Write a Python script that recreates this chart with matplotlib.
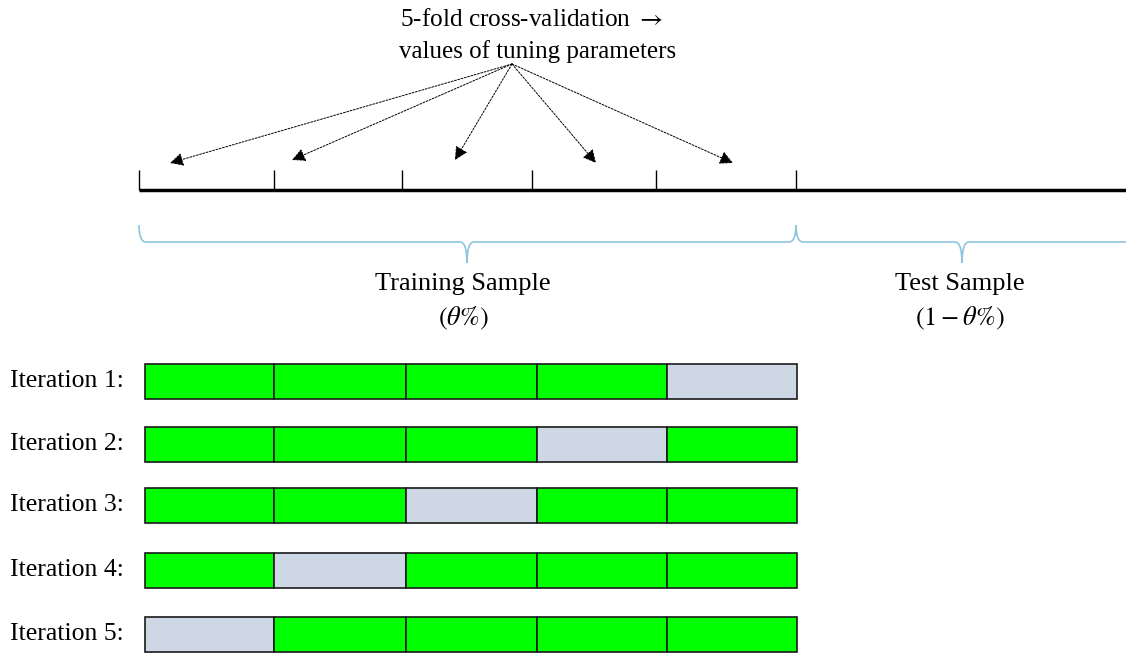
import numpy as np
import matplotlib.pyplot as plt
from matplotlib.path import Path
from matplotlib.patches import PathPatch

plt.rcParams['font.family'] = ['Liberation Serif', 'DejaVu Serif']
plt.rcParams['mathtext.fontset'] = 'stix'

# Layout data (pixel coordinates of the diagram)
timeline_ticks = [139, 274, 402, 532, 656, 796]
timeline_end = 1126
arrow_origin = (512, 64)
arrow_targets_x = [170, 292, 455, 596, 733]
arrow_targets_y = [163, 160, 160, 163, 163]

row_labels = ['Iteration 1:', 'Iteration 2:', 'Iteration 3:', 'Iteration 4:', 'Iteration 5:']
row_centers = [381, 444, 505, 570, 634]
fold_edges = [145, 274, 406, 537, 667, 797]
test_fold = [4, 3, 2, 1, 0]  # which fold is held out in each iteration

train_color = '#00ff00'
held_color = '#cdd8e4'
brace_color = '#8ec5de'

fig = plt.figure(figsize=(11.26, 6.58), dpi=100)
ax = fig.add_axes([0, 0, 1, 1])
ax.set_xlim(0, 1126)
ax.set_ylim(658, 0)
ax.axis('off')

# titel
ax.text(531, 20, r'5-fold cross-validation $\rightarrow$', ha='center', va='center', fontsize=18.2)
ax.text(538, 52, 'values of tuning parameters', ha='center', va='center', fontsize=18)

# pilar
for tx, ty in zip(arrow_targets_x, arrow_targets_y):
    ax.annotate('', xy=(tx, ty), xytext=arrow_origin,
                arrowprops=dict(arrowstyle='-|>', color='black', lw=0.7,
                                linestyle=(0, (2, 1.5)), mutation_scale=20,
                                shrinkA=0, shrinkB=0))

# tidslinje
ax.hlines(190, timeline_ticks[0], timeline_end, color='black', lw=2.5)
ax.vlines(timeline_ticks, 170, 190, color='black', lw=1)


def brace(x0, x1, xm, yline=242, ytop=225, ybot=263, d=7):
    verts = [(x0, ytop), (x0, yline), (x0 + d, yline),
             (xm - d, yline),
             (xm, yline), (xm, ybot),
             (xm, yline), (xm + d, yline),
             (x1 - d, yline),
             (x1, yline), (x1, ytop)]
    codes = [Path.MOVETO, Path.CURVE3, Path.CURVE3,
             Path.LINETO,
             Path.CURVE3, Path.CURVE3,
             Path.CURVE3, Path.CURVE3,
             Path.LINETO,
             Path.CURVE3, Path.CURVE3]
    ax.add_patch(PathPatch(Path(verts, codes), fill=False, edgecolor=brace_color, lw=1.2))


brace(139, 796, 467)
brace(796, 1150, 962)

ax.text(463, 284, 'Training Sample', ha='center', va='center', fontsize=19)
ax.text(463, 318, r'$(\theta\%)$', ha='center', va='center', fontsize=19)
ax.text(960, 284, 'Test Sample', ha='center', va='center', fontsize=19)
ax.text(960, 318, r'$(1-\theta\%)$', ha='center', va='center', fontsize=19)

# iterationer
widths = np.diff(fold_edges)
for i, (label, yc) in enumerate(zip(row_labels, row_centers)):
    colors = [held_color if k == test_fold[i] else train_color for k in range(len(widths))]
    ax.barh(yc, widths, left=fold_edges[:-1], height=35, color=colors,
            edgecolor='#1a1a1a', linewidth=1.2)
    ax.text(10, yc, label, ha='left', va='center', fontsize=18.5)

plt.savefig('out.png', dpi=100)
